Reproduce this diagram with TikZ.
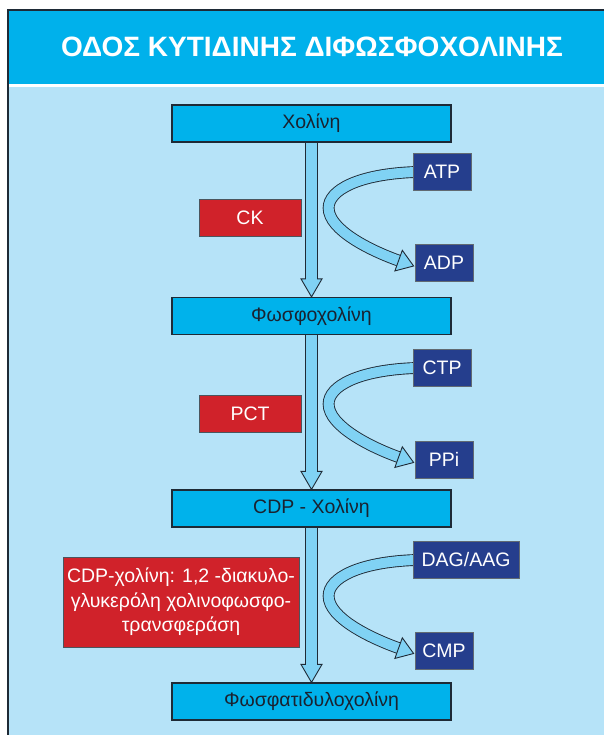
\documentclass[tikz,border=0pt]{standalone}
\usepackage{fontspec}
\setmainfont{Liberation Sans}
\usetikzlibrary{calc}

\definecolor{titlecyan}{HTML}{00B1EB}
\definecolor{bodyblue}{HTML}{B6E3F8}
\definecolor{boxcyan}{HTML}{00B2EB}
\definecolor{cofnavy}{HTML}{253E8D}
\definecolor{enzred}{HTML}{D0222A}
\definecolor{arrowfill}{HTML}{80D2F4}
\definecolor{inkline}{HTML}{1E2A36}
\definecolor{inktext}{HTML}{1A2230}

\pgfdeclarelayer{panel}
\pgfdeclarelayer{arrows}
\pgfsetlayers{panel,arrows,main}

\tikzset{
  stepbox/.style={draw=inkline, line width=1.2pt, fill=boxcyan, text=inktext,
    minimum width=279pt, minimum height=37pt, inner sep=0pt,
    font=\fontsize{19.5}{22}\selectfont},
  cofbox/.style={draw=inkline!70, line width=0.8pt, fill=cofnavy, text=white,
    minimum height=37pt, inner sep=0pt, font=\fontsize{19.5}{22}\selectfont},
  enzbox/.style={draw=inkline!80, line width=0.8pt, fill=enzred, text=white,
    minimum width=102pt, minimum height=37pt, inner sep=0pt,
    font=\fontsize{19.5}{22}\selectfont},
  fatfill/.style={draw=inkline, line width=0.9pt, fill=arrowfill, line join=miter},
  band/.style={draw=inkline, line width=0.9pt, double=arrowfill, double distance=10pt}
}

% vertical block arrow from one step box to the next
\newcommand\mainarrow[2]{%
  \draw[fatfill] ($(#1.south)+(-6,0)$) -- ($(#2.north)+(-6,-18)$)
    -- ($(#2.north)+(-10.5,-18)$) -- (#2.north) -- ($(#2.north)+(10.5,-18)$)
    -- ($(#2.north)+(6,-18)$) -- ($(#1.south)+(6,0)$);
}
% curved side arrow from a co-substrate to its by-product
\newcommand\sidearrow[2]{%
  \coordinate (s) at ($(#1.west)+(3,0.5)$);
  \coordinate (t) at ($(#2.west)+(-1,3)$);
  \coordinate (b) at ($(t)+(-15,-5.4)$);
  \draw[band] (s) .. controls +(-57,2) and +(0,-18) .. ($(s)+(-87,36)$)
    .. controls +(0,22) and ($(b)+(-28,-10)$) .. (b);
  \draw[fatfill] (t) -- ($(b)+(-3.7,10.3)$) -- ($(b)+(3.7,-10.3)$) -- cycle;
}

\begin{document}
\begin{tikzpicture}[x=1pt,y=-1pt]
  \useasboundingbox (0,0) rectangle (603,735);
  \clip (0,0) rectangle (603,735);

  % panel: title band and body
  \begin{pgfonlayer}{panel}
    \fill[white] (0,0) rectangle (603,735);
    \fill[titlecyan] (8,10) rectangle (620,84);
    \fill[bodyblue] (8,87) rectangle (620,760);
    \draw[inkline, line width=1.3pt] (8,760) -- (8,10) -- (620,10);
  \end{pgfonlayer}
  \node[anchor=base, text=white, font=\bfseries\fontsize{28}{32}\selectfont]
    (title) at (312,57) {ΟΔΟΣ ΚΥΤΙΔΙΝΗΣ ΔΙΦΩΣΦΟΧΟΛΙΝΗΣ};

  % main pathway steps
  \node[stepbox] (cho)  at (311.5,123.5) {Χολίνη};
  \node[stepbox] (pcho) at (311.5,316)   {Φωσφοχολίνη};
  \node[stepbox] (cdp)  at (311.5,508.5) {CDP - Χολίνη};
  \node[stepbox] (pc)   at (311.5,701.5) {Φωσφατιδυλοχολίνη};

  % co-substrates and by-products
  \node[cofbox, minimum width=58pt]  (atp) at (442,171.5) {ATP};
  \node[cofbox, minimum width=58pt]  (adp) at (444,263)   {ADP};
  \node[cofbox, minimum width=58pt]  (ctp) at (442,367.5) {CTP};
  \node[cofbox, minimum width=58pt]  (ppi) at (444,459.5) {PPi};
  \node[cofbox, minimum width=106pt] (dag) at (466,559.5) {DAG/AAG};
  \node[cofbox, minimum width=58pt]  (cmp) at (444,650.5) {CMP};

  % enzymes
  \node[enzbox] (ck)  at (250,217.5) {CK};
  \node[enzbox] (pct) at (250,413.5) {PCT};
  \node[enzbox, minimum width=236pt, minimum height=90pt, align=center,
        font=\fontsize{19.5}{24.5}\selectfont] (cept) at (181,602)
    {CDP-χολίνη: 1,2 -διακυλο-\\γλυκερόλη χολινοφωσφο-\\τρανσφεράση};

  % arrows, beneath the boxes
  \begin{pgfonlayer}{arrows}
    \mainarrow{cho}{pcho}
    \mainarrow{pcho}{cdp}
    \mainarrow{cdp}{pc}
    \sidearrow{atp}{adp}
    \sidearrow{ctp}{ppi}
    \sidearrow{dag}{cmp}
  \end{pgfonlayer}
\end{tikzpicture}
\end{document}
